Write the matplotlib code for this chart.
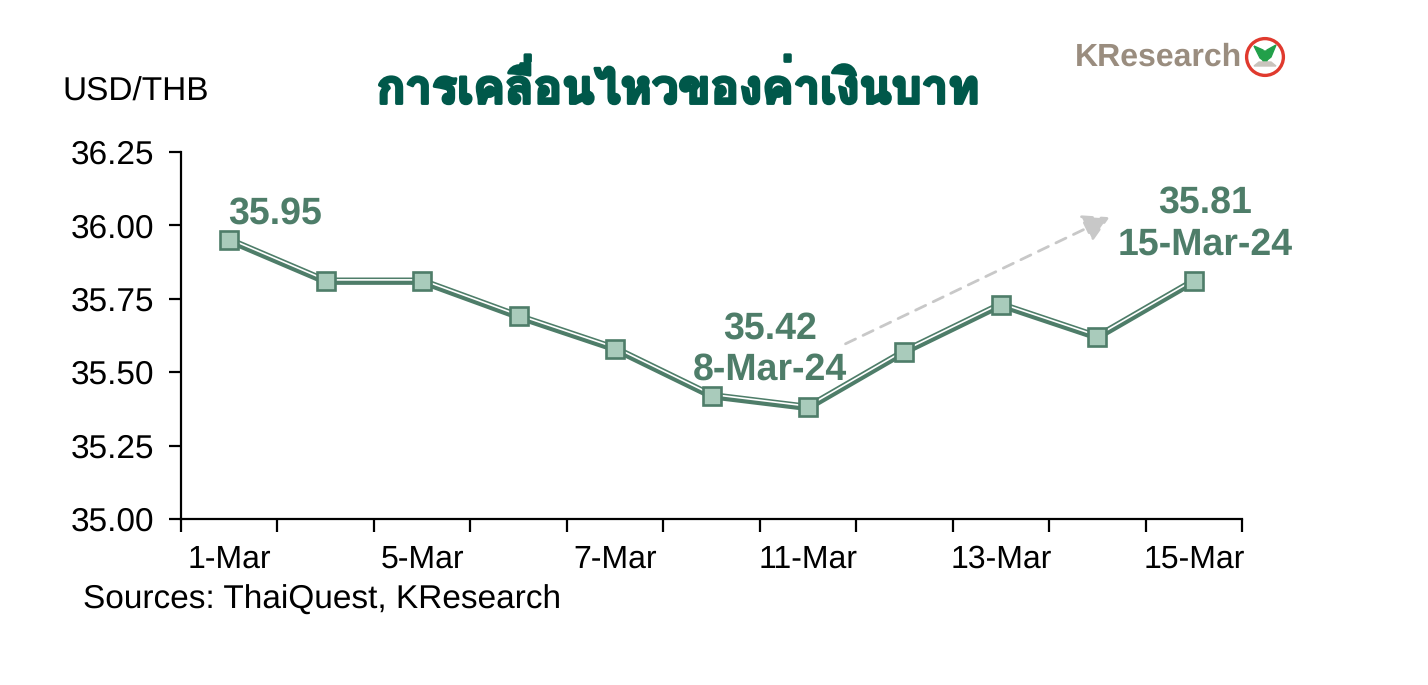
import matplotlib
matplotlib.use("Agg")
import matplotlib.pyplot as plt
import matplotlib.transforms as mtransforms
import matplotlib.patheffects as pe
from matplotlib import font_manager
from matplotlib.ft2font import FT2Font
from matplotlib.patches import Circle, Polygon, FancyArrowPatch

# ---------------- data ----------------
dates = ["1-Mar", "4-Mar", "5-Mar", "6-Mar", "7-Mar", "8-Mar",
         "11-Mar", "12-Mar", "13-Mar", "14-Mar", "15-Mar"]
usdthb = [35.95, 35.81, 35.81, 35.69, 35.58, 35.42,
          35.38, 35.57, 35.73, 35.62, 35.81]
shown_labels = ["1-Mar", "5-Mar", "7-Mar", "11-Mar", "13-Mar", "15-Mar"]
yticks = [35.00, 35.25, 35.50, 35.75, 36.00, 36.25]
title_text = "การเคลื่อนไหวของค่าเงินบาท"
unit_text = "USD/THB"
source_text = "Sources: ThaiQuest, KResearch"
first_label = "35.95"
low_label = ["35.42", "8-Mar-24"]
last_label = ["35.81", "15-Mar-24"]

GREEN = "#4e7d69"
FACE = "#a9cbbb"
TITLE = "#00584a"
LOGO = "#9a8d7f"


def thai_font(size):
    best = None
    for f in font_manager.fontManager.ttflist:
        try:
            ft = FT2Font(f.fname)
            if not (ft.get_char_index(0x0E01) and ft.get_char_index(0x0E40)):
                continue
        except Exception:
            continue
        name = f.fname.split("/")[-1].lower()
        score = 0
        if "loma" in name:
            score += 10
        if "bold" in name:
            score += 5
        if "oblique" in name or "italic" in name:
            score -= 8
        if "unifont" in name:
            score -= 20
        if best is None or score > best[0]:
            best = (score, f.fname)
    if best:
        return font_manager.FontProperties(fname=best[1], size=size)
    return font_manager.FontProperties(family="DejaVu Sans", weight="bold", size=size)


plt.rcParams["font.family"] = ["Liberation Sans", "DejaVu Sans"]
plt.rcParams["text.hinting"] = "no_hinting"

fig = plt.figure(figsize=(14.28, 6.85), dpi=100)
fig.patch.set_facecolor("white")
ax = fig.add_axes([181 / 1428, 1 - 519 / 685, (1242 - 181) / 1428, (519 - 152) / 685])

x = list(range(len(dates)))
ax.plot(x, usdthb, color=GREEN, lw=5.3, solid_joinstyle="miter", zorder=2)
off = mtransforms.offset_copy(ax.transData, fig=fig, x=0, y=1.3, units="dots")
ax.plot(x, usdthb, color="white", lw=1.2, transform=off, zorder=3)
ax.plot(x, usdthb, ls="none", marker="s", ms=13, mfc=FACE, mec=GREEN, mew=1.9, zorder=4)

ax.set_xlim(-0.5, len(dates) - 0.5)
ax.set_ylim(yticks[0], yticks[-1])
ax.set_yticks(yticks)
ax.set_yticklabels([f"{v:.2f}" for v in yticks])

ax.set_xticks([i - 0.5 for i in range(len(dates) + 1)])
ax.set_xticklabels([])
lab_pos = [dates.index(d) for d in shown_labels]
ax.set_xticks(lab_pos, minor=True)
ax.set_xticklabels(shown_labels, minor=True)
ax.tick_params(axis="x", which="major", direction="out", length=9, width=1.6, color="black")
ax.tick_params(axis="x", which="minor", length=0, pad=18, labelsize=23)
ax.tick_params(axis="y", direction="out", length=9, width=1.6, labelsize=24, pad=10)

for s in ["top", "right"]:
    ax.spines[s].set_visible(False)
for s in ["left", "bottom"]:
    ax.spines[s].set_linewidth(1.6)

lab_kw = dict(color=GREEN, fontsize=27, fontweight="bold", ha="center", va="center")
fig.text(275 / 1428, 1 - 214 / 685, first_label, **lab_kw)
fig.text(770 / 1428, 1 - 329 / 685, low_label[0], **lab_kw)
fig.text(770 / 1428, 1 - 370 / 685, low_label[1], **lab_kw)
fig.text(1205 / 1428, 1 - 203 / 685, last_label[0], **lab_kw)
fig.text(1205 / 1428, 1 - 245 / 685, last_label[1], **lab_kw)

fig.patches.append(FancyArrowPatch(
    (843 / 1428, 1 - 345 / 685), (1112 / 1428, 1 - 216 / 685),
    transform=fig.transFigure, arrowstyle="-|>,head_length=16,head_width=9",
    color="#c8c8c8", lw=2, linestyle=(0, (4, 3)), mutation_scale=1))

fig.text(62 / 1428, 1 - 92 / 685, unit_text, fontsize=24, ha="left", va="center")
fig.text(83 / 1428, 1 - 600 / 685, source_text, fontsize=24, ha="left", va="center")

fig.text(678 / 1428, 1 - 88 / 685, title_text, fontproperties=thai_font(34), color=TITLE,
         ha="center", va="center",
         path_effects=[pe.withStroke(linewidth=2.2, foreground=TITLE)])

fig.text(1075 / 1428, 1 - 57 / 685, "KResearch", fontsize=23, fontweight="bold",
         color=LOGO, ha="left", va="center")
lax = fig.add_axes([1243 / 1428, 1 - 80 / 685, 44 / 1428, 46 / 685])
lax.set_xlim(-1.1, 1.1)
lax.set_ylim(-1.1, 1.1)
lax.set_aspect("equal")
lax.axis("off")
lax.add_patch(Circle((0, 0), 0.92, fill=False, ec="#e03a2e", lw=2.4))
lax.add_patch(Polygon([(-0.55, 0.55), (-0.1, 0.35), (-0.05, -0.2), (-0.25, -0.05)], color="#22a04a"))
lax.add_patch(Polygon([(0.55, 0.6), (0.1, 0.35), (0.05, -0.2), (0.3, 0.0)], color="#22a04a"))
lax.add_patch(Polygon([(-0.12, 0.3), (0.12, 0.3), (0.08, -0.4), (-0.08, -0.4)], color="#22a04a"))
lax.add_patch(Polygon([(-0.55, -0.45), (0.55, -0.45), (0.3, -0.25), (-0.3, -0.25)], color="#c9c4bd"))

fig.savefig("out.png", dpi=100, facecolor="white")
